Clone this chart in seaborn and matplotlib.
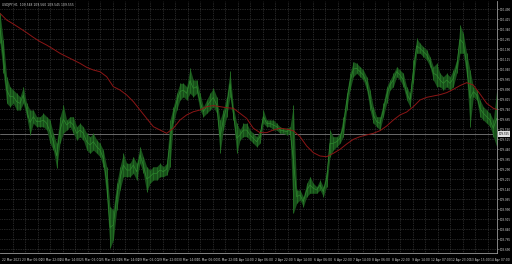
import numpy as np
import pandas as pd
import matplotlib
matplotlib.use("Agg")
import matplotlib.pyplot as plt
import seaborn as sns

# ---- data ----
symbol_title = "USDJPY,H1  109.548 109.560 109.545 109.555"
current_price = 109.555

price_high = [
    110.460, 110.260, 109.985, 109.910, 109.885, 109.860, 109.835, 109.910, 109.785, 109.735,
    109.735, 109.685, 109.685, 109.710, 109.685, 109.660, 109.560, 109.485, 109.685, 109.772,
    109.660, 109.685, 109.685, 109.610, 109.635, 109.610, 109.560, 109.535, 109.560, 109.510,
    109.485, 109.435, 109.310, 109.010, 108.985, 109.185, 109.310, 109.410, 109.335, 109.335,
    109.385, 109.335, 109.460, 109.385, 109.310, 109.285, 109.310, 109.310, 109.335, 109.310,
    109.335, 109.660, 109.760, 109.860, 109.935, 109.935, 109.910, 110.048, 109.960, 109.960,
    109.860, 109.760, 109.810, 109.860, 109.898, 109.835, 109.660, 109.735, 109.835, 110.028,
    109.760, 109.635, 109.585, 109.635, 109.635, 109.585,
    109.560, 109.535, 109.585, 109.735, 109.660, 109.660, 109.660, 109.635, 109.610, 109.598,
    109.598, 109.610, 109.772, 109.135, 109.135, 109.085, 109.185, 109.235, 109.185, 109.160,
    109.210, 109.160, 109.285, 109.585, 109.535, 109.535, 109.560, 109.685, 109.860, 110.010,
    110.098, 110.085, 110.060, 110.035, 109.985, 109.885, 109.760, 109.685, 109.685, 109.785,
    109.910, 109.960, 110.010, 110.060, 110.035, 110.010, 109.910, 109.860, 110.110, 110.272,
    110.235, 110.210, 110.185, 110.135, 110.060, 110.085, 110.010, 109.985, 110.010, 109.985,
    110.035, 110.110, 110.372, 110.310, 110.160, 110.035, 109.910, 109.885, 109.810, 109.760,
    109.735, 109.710, 109.660, 109.885, 109.585,
]
price_low = [
    110.235, 110.010, 109.785, 109.760, 109.785, 109.735, 109.735, 109.785, 109.685, 109.548,
    109.635, 109.610, 109.610, 109.610, 109.585, 109.485, 109.435, 109.298, 109.485, 109.560,
    109.585, 109.610, 109.560, 109.510, 109.535, 109.510, 109.435, 109.410, 109.435, 109.410,
    109.385, 109.310, 109.085, 108.698, 108.760, 108.985, 109.135, 109.235, 109.235, 109.235,
    109.260, 109.210, 109.335, 109.260, 109.122, 109.185, 109.210, 109.210, 109.235, 109.235,
    109.248, 109.310, 109.635, 109.735, 109.810, 109.835, 109.810, 109.860, 109.835, 109.860,
    109.735, 109.685, 109.710, 109.735, 109.760, 109.710, 109.410, 109.585, 109.685, 109.835,
    109.660, 109.410, 109.510, 109.535, 109.535, 109.510,
    109.485, 109.460, 109.485, 109.635, 109.610, 109.610, 109.585, 109.585, 109.560, 109.560,
    109.548, 109.560, 108.960, 109.035, 109.060, 109.010, 109.085, 109.110, 109.110, 109.110,
    109.135, 109.085, 109.160, 109.385, 109.435, 109.460, 109.485, 109.535, 109.735, 109.885,
    109.985, 110.010, 109.985, 109.960, 109.885, 109.735, 109.635, 109.610, 109.585, 109.685,
    109.785, 109.885, 109.910, 109.985, 109.960, 109.910, 109.810, 109.760, 109.935, 110.160,
    110.160, 110.135, 110.110, 110.060, 109.960, 109.910, 109.910, 109.885, 109.910, 109.885,
    109.910, 110.010, 110.160, 110.160, 109.985, 109.610, 109.835, 109.810, 109.685, 109.660,
    109.635, 109.610, 109.535, 109.460, 109.535,
]
moving_average = [
    110.460, 110.410, 110.380, 110.348, 110.315, 110.280, 110.248, 110.222, 110.192, 110.160,
    110.135, 110.110, 110.085, 110.055, 110.035, 110.022, 109.985, 109.910, 109.885, 109.848,
    109.798, 109.735, 109.672, 109.610, 109.585, 109.560, 109.598, 109.660, 109.698, 109.722,
    109.735, 109.760, 109.768, 109.760, 109.752, 109.748, 109.710, 109.672,
    109.598, 109.565, 109.565, 109.585, 109.598, 109.592, 109.580, 109.535, 109.465, 109.415,
    109.390, 109.385, 109.410, 109.440, 109.480, 109.515, 109.535, 109.548, 109.560, 109.580,
    109.615, 109.660, 109.698, 109.720, 109.760, 109.810, 109.830, 109.840, 109.850, 109.865,
    109.890, 109.918, 109.940, 109.922, 109.855, 109.785, 109.748, 109.730,
]
time_labels = [
    "22 Mar 2021", "23 Mar 06:00", "23 Mar 22:00", "24 Mar 14:00", "25 Mar 06:00",
    "25 Mar 22:00", "26 Mar 14:00", "29 Mar 06:00", "29 Mar 22:00", "30 Mar 14:00",
    "31 Mar 06:00", "31 Mar 22:00", "1 Apr 14:00", "2 Apr 06:00", "2 Apr 22:00",
    "5 Apr 14:00", "6 Apr 06:00", "6 Apr 22:00", "7 Apr 14:00", "8 Apr 06:00",
    "8 Apr 22:00", "9 Apr 14:00", "12 Apr 07:00", "12 Apr 23:00", "13 Apr 15:00",
    "14 Apr 07:00",
]
price_ticks = [
    110.490, 110.415, 110.340, 110.265, 110.190, 110.115, 110.040, 109.965, 109.890,
    109.815, 109.740, 109.665, 109.590, 109.515, 109.440, 109.365, 109.290, 109.215,
    109.140, 109.065, 108.990, 108.915, 108.840, 108.765, 108.690,
]

# ---- figure ----
sns.set_style("dark", {"axes.facecolor": "black", "figure.facecolor": "black"})
plt.rcParams["font.family"] = ["DejaVu Sans"]

W, H = 512, 264
fig = plt.figure(figsize=(W / 100, H / 100), dpi=100, facecolor="black")
ax = fig.add_axes([0 / W, (H - 253) / H, 497 / W, 252 / H])
ax.set_facecolor("black")

n = len(price_high)
df = pd.DataFrame({"bar": np.arange(n), "high": price_high, "low": price_low})
df["mid"] = (df["high"] + df["low"]) / 2
ma = pd.DataFrame({"bar": np.arange(0, 2 * len(moving_average), 2), "ma": moving_average})

ax.set_xlim(0, 149.1)
ax.set_ylim(108.6625, 110.5525)

# grid: vertical every ~12.5px, horizontal at price ticks
px = 0.3  # data units per pixel along x
for gx in np.arange(12.5, 497, 12.5) * px:
    ax.axvline(gx, color="#4a4a4a", lw=0.5, ls=(0, (1, 1.5)), zorder=0)
for gy in price_ticks:
    ax.axhline(gy, color="#4a4a4a", lw=0.5, ls=(0, (1, 1.5)), zorder=0)

# candles mass
ax.fill_between(df["bar"], df["low"], df["high"], color="#18501a", lw=0, zorder=2)
ax.vlines(df["bar"], df["low"], df["high"], color="#257225", lw=0.6, zorder=3)
sns.lineplot(data=df, x="bar", y="mid", ax=ax, color="#2e882e", lw=0.5, zorder=3)
sns.lineplot(data=ma, x="bar", y="ma", ax=ax, color="#8c1616", lw=0.7, zorder=4)

# current price line
ax.axhline(current_price, color="#7a7a7a", lw=0.6, zorder=1)

# axes styling
for s in ["top", "left"]:
    ax.spines[s].set_visible(False)
ax.spines["right"].set_color("#9a9a9a")
ax.spines["bottom"].set_color("#9a9a9a")
ax.spines["right"].set_linewidth(0.6)
ax.spines["bottom"].set_linewidth(0.6)
ax.set_xlabel("")
ax.set_ylabel("")

fs = 2.2
fsy = 1.95
xt = [(2 + 19.5 * k) * px for k in range(len(time_labels))]
ax.set_xticks(xt)
ax.set_xticklabels(time_labels, fontsize=fs, color="#d0d0d0", ha="left")
ax.tick_params(axis="x", length=2, width=0.4, color="#9a9a9a", pad=1.5)

ax.yaxis.tick_right()
ax.set_yticks(price_ticks)
ax.set_yticklabels([f"{v:.3f}" for v in price_ticks], fontsize=fsy, color="#d0d0d0")
ax.tick_params(axis="y", length=1.2, width=0.4, color="#9a9a9a", pad=0.6)

# title text top-left
ax.text(0.004, 0.993, symbol_title, transform=ax.transAxes, fontsize=fs,
        color="#d0d0d0", ha="left", va="top")

# current price box
ax.annotate(f"{current_price:.3f}", xy=(1.0, current_price), xycoords=("axes fraction", "data"),
            xytext=(1.0, 0), textcoords="offset points", fontsize=fsy, color="black",
            ha="left", va="center",
            bbox=dict(boxstyle="square,pad=0.2", fc="#e0e0e0", ec="none"),
            annotation_clip=False)

fig.savefig("out.png", dpi=100, facecolor="black")
